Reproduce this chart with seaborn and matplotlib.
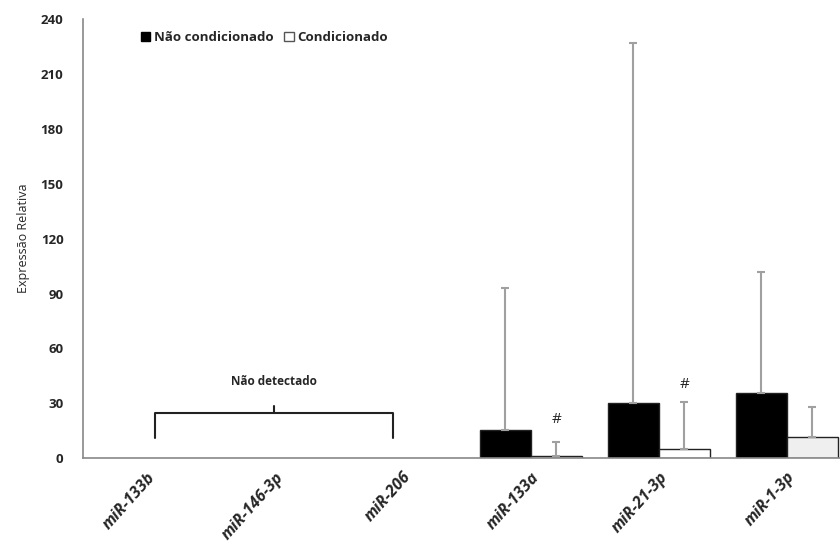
import numpy as np
import pandas as pd
import seaborn as sns
import matplotlib.pyplot as plt
from matplotlib.patches import Patch

# data
mirnas = ['miR-133b', 'miR-146-3p', 'miR-206', 'miR-133a', 'miR-21-3p', 'miR-1-3p']
nao_cond = [np.nan, np.nan, np.nan, 15.2, 30.2, 35.5]
nao_cond_err = [np.nan, np.nan, np.nan, 78.0, 197.0, 66.0]
cond = [np.nan, np.nan, np.nan, 1.2, 4.8, 11.5]
cond_err = [np.nan, np.nan, np.nan, 7.8, 26.0, 16.5]
groups = ['Não condicionado', 'Condicionado']
hash_marks = {'miR-133a': 21, 'miR-21-3p': 40.5}

df = pd.DataFrame({
    'miRNA': mirnas * 2,
    'Expressão Relativa': nao_cond + cond,
    'Grupo': [groups[0]] * 6 + [groups[1]] * 6,
})

sns.set_style('white')
plt.rcParams['font.family'] = ['Open Sans', 'DejaVu Sans']
plt.rcParams['font.weight'] = 'bold'

fig = plt.figure(figsize=(8.4, 5.52), dpi=100)
ax = fig.add_axes([0.0988, 0.170, 0.914, 0.7953])

sns.barplot(data=df, x='miRNA', y='Expressão Relativa', hue='Grupo', order=mirnas,
            hue_order=groups, palette={groups[0]: 'black', groups[1]: 'white'},
            edgecolor='#222222', linewidth=1, ax=ax, legend=False)

# split bars by colour and sort left to right
bars = [p for p in ax.patches if not np.isnan(p.get_height()) and p.get_height() > 0]
nao_bars = [b for b in bars if b.get_facecolor()[0] < 0.5]
cond_bars = [b for b in bars if b.get_facecolor()[0] >= 0.5]
nao_bars.sort(key=lambda b: b.get_x())
cond_bars.sort(key=lambda b: b.get_x())
cond_bars[-1].set_facecolor('#efefef')

err_n = [e for e in nao_cond_err if not np.isnan(e)]
err_c = [e for e in cond_err if not np.isnan(e)]
for blist, errs in [(nao_bars, err_n), (cond_bars, err_c)]:
    xs = [b.get_x() + b.get_width() / 2 for b in blist]
    hs = [b.get_height() for b in blist]
    ax.errorbar(xs, hs, yerr=[np.zeros(len(errs)), errs], fmt='none',
                ecolor='#a0a0a0', elinewidth=1.5, capsize=3, capthick=1.5, zorder=1)

for b, m in zip(cond_bars, mirnas[3:]):
    if m in hash_marks:
        ax.text(b.get_x() + b.get_width() / 2, hash_marks[m], '#', ha='center',
                va='center', fontsize=11, fontweight='normal')

# bracket for non-detected miRNAs
ax.plot([0.06, 0.06, 1.92, 1.92], [11, 24.5, 24.5, 11], color='#222222', lw=1.5)
ax.plot([0.99, 0.99], [24.5, 28.5], color='#222222', lw=1.5)
ax.text(0.99, 42, 'Não detectado', ha='center', va='center', fontsize=8.5)

ax.set_ylim(0, 240)
ax.set_xlim(-0.5, 5.5)
ax.set_yticks(range(0, 241, 30))
ax.set_xlabel('')
ax.set_ylabel('Expressão Relativa', fontsize=9, fontweight='normal', labelpad=8)
ax.tick_params(axis='both', length=0, labelsize=9.5)
ax.tick_params(axis='y', pad=14)
ax.tick_params(axis='x', pad=8)
for lab in ax.get_xticklabels():
    lab.set_rotation(48)
    lab.set_ha('right')
    lab.set_rotation_mode('anchor')
    lab.set_fontweight('bold')
    lab.set_fontsize(11.5)
    lab.set_style('italic')
for lab in ax.get_yticklabels():
    lab.set_fontweight('bold')

for s in ['top', 'right']:
    ax.spines[s].set_visible(False)
for s in ['left', 'bottom']:
    ax.spines[s].set_color('#888888')
    ax.spines[s].set_linewidth(1.2)

handles = [Patch(facecolor='black', edgecolor='black'),
           Patch(facecolor='white', edgecolor='#555555')]
ax.legend(handles, groups, loc='upper left', bbox_to_anchor=(0.06, 1.0), ncol=2,
          frameon=False, handlelength=0.7, handleheight=0.7, handletextpad=0.3,
          columnspacing=0.8, prop={'weight': 'bold', 'size': 9.5})

fig.savefig('out.png', dpi=100)
